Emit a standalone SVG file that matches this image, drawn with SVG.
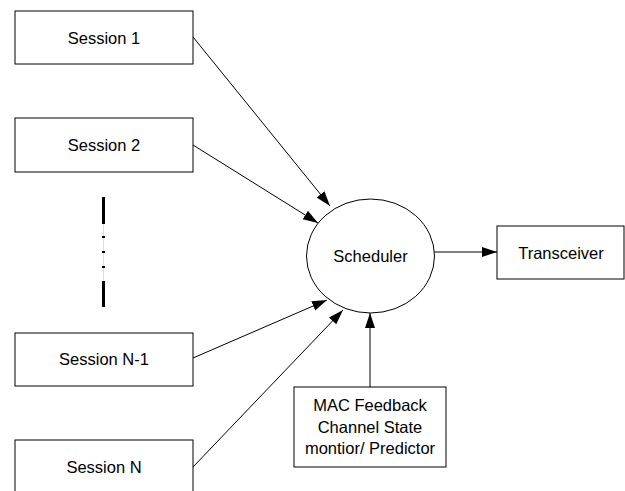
<svg xmlns="http://www.w3.org/2000/svg" width="625" height="491" viewBox="0 0 625 491">
<style>
.box{fill:#fff;stroke:#000;stroke-width:1}
.t{font-family:"Liberation Sans",Arial,sans-serif;font-size:16.5px;fill:#000;text-anchor:middle}
.c{stroke:#000;stroke-width:1;fill:none;marker-end:url(#ah)}
</style>
<defs>
<marker id="ah" markerUnits="userSpaceOnUse" markerWidth="16" markerHeight="12" refX="15" refY="5" orient="auto" viewBox="0 0 16 10">
<path d="M0,0 L15,5 L0,10 Z" fill="#000"/>
</marker>
</defs>
<rect width="625" height="491" fill="#fff"/>
<g id="connectors">
<line class="c" x1="193" y1="37" x2="330" y2="206"/>
<line class="c" x1="193" y1="145" x2="318" y2="223"/>
<line class="c" x1="193" y1="358" x2="327" y2="300"/>
<line class="c" x1="193" y1="467" x2="343" y2="310"/>
<line class="c" x1="434" y1="252" x2="497" y2="252"/>
<line class="c" x1="370" y1="387" x2="370" y2="313"/>
</g>
<g id="session1"><rect class="box" x="15" y="11" width="178" height="53"/><text class="t" x="104" y="43.5">Session 1</text></g>
<g id="session2"><rect class="box" x="15" y="118" width="178" height="54"/><text class="t" x="104" y="150.5">Session 2</text></g>
<g id="ellipsis">
<line x1="103.5" y1="197" x2="103.5" y2="307" stroke="#ddd" stroke-width="1"/>
<line x1="103.5" y1="197" x2="103.5" y2="224" stroke="#000" stroke-width="3"/>
<line x1="103.5" y1="236" x2="103.5" y2="238" stroke="#000" stroke-width="3"/>
<line x1="103.5" y1="251" x2="103.5" y2="253" stroke="#000" stroke-width="3"/>
<line x1="103.5" y1="266" x2="103.5" y2="268" stroke="#000" stroke-width="3"/>
<line x1="103.5" y1="281" x2="103.5" y2="307" stroke="#000" stroke-width="3"/>
</g>
<g id="sessionN1"><rect class="box" x="15" y="333" width="178" height="53"/><text class="t" x="104" y="365">Session N-1</text></g>
<g id="sessionN"><rect class="box" x="15" y="440" width="178" height="54"/><text class="t" x="104" y="472.5">Session N</text></g>
<g id="scheduler"><ellipse class="box" cx="370.5" cy="256" rx="64" ry="57"/><text class="t" x="370.5" y="261.5">Scheduler</text></g>
<g id="transceiver"><rect class="box" x="497" y="226" width="127" height="53"/><text class="t" x="561" y="258.5">Transceiver</text></g>
<g id="mac"><rect class="box" x="294" y="387" width="152" height="80"/>
<text class="t" x="370" y="411">MAC Feedback</text>
<text class="t" x="370" y="432.5">Channel State</text>
<text class="t" x="370" y="453.5">montior/ Predictor</text></g>
</svg>
